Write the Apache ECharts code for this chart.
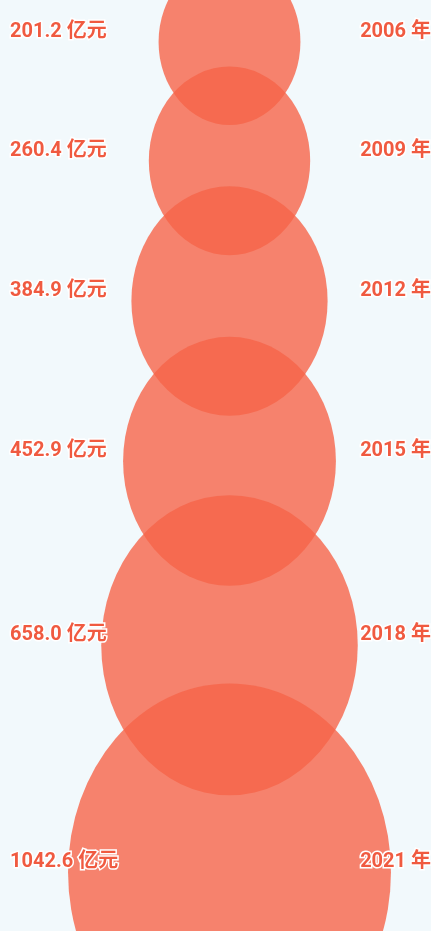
<!DOCTYPE html>
<html>
<head>
<meta charset="utf-8">
<script src="https://cdn.jsdelivr.net/npm/echarts@6/dist/echarts.min.js"></script>
<style>
html,body{margin:0;padding:0;background:#f2f9fc;}
#main{width:431px;height:931px;}
</style>
</head>
<body>
<div id="main"></div>
<script>
// Data
var years = ['2006', '2009', '2012', '2015', '2018', '2021'];
var values = [201.2, 260.4, 384.9, 452.9, 658.0, 1042.6];
var unit = '亿元';
var yearSuffix = '年';

// Layout (derived from values)
var KX = 5.0, KY = 5.85, OVERLAP = 0.67, TOP = 42, LABEL_SHIFT = -10;
function rx(v) { return KX * Math.sqrt(v); }
function ry(v) { return KY * Math.sqrt(v); }
var centers = [];
values.forEach(function (v, i) {
  if (i === 0) centers.push(TOP);
  else centers.push(centers[i - 1] + OVERLAP * (ry(values[i - 1]) + ry(v)));
});

var XMIN = -229.5, XMAX = 201.5;

var bubbleData = values.map(function (v, i) { return [0, centers[i], v]; });
var leftLabels = values.map(function (v, i) { return [XMIN, centers[i] + LABEL_SHIFT, v]; });
var rightLabels = years.map(function (y, i) { return [XMAX, centers[i] + LABEL_SHIFT, y]; });

var labelStyle = {
  show: true,
  color: '#f05a40',
  fontSize: 20,
  fontWeight: 'bold',
  fontFamily: 'Roboto, "Noto Sans CJK SC", sans-serif',
  textBorderColor: '#ffffff',
  textBorderWidth: 3
};

var chart = echarts.init(document.getElementById('main'));
chart.setOption({
  backgroundColor: '#f2f9fc',
  animation: false,
  grid: { left: 0, right: 0, top: 0, bottom: 0 },
  xAxis: { type: 'value', min: XMIN, max: XMAX, show: false },
  yAxis: { type: 'value', min: 0, max: 931, inverse: true, show: false },
  series: [
    {
      type: 'scatter',
      data: bubbleData,
      symbol: 'circle',
      symbolSize: function (d) { return [2 * rx(d[2]), 2 * ry(d[2])]; },
      itemStyle: { color: '#f66448', opacity: 0.8 },
      z: 2
    },
    {
      type: 'scatter',
      data: leftLabels,
      symbolSize: 0,
      itemStyle: { opacity: 1 },
      label: Object.assign({}, labelStyle, {
        position: 'right', distance: 10,
        formatter: function (p) { return p.value[2].toFixed(1) + ' ' + unit; }
      }),
      z: 5
    },
    {
      type: 'scatter',
      data: rightLabels,
      symbolSize: 0,
      itemStyle: { opacity: 1 },
      label: Object.assign({}, labelStyle, {
        position: 'left', distance: 0,
        formatter: function (p) { return p.value[2] + ' ' + yearSuffix; }
      }),
      z: 5
    }
  ]
});
</script>
</body>
</html>
